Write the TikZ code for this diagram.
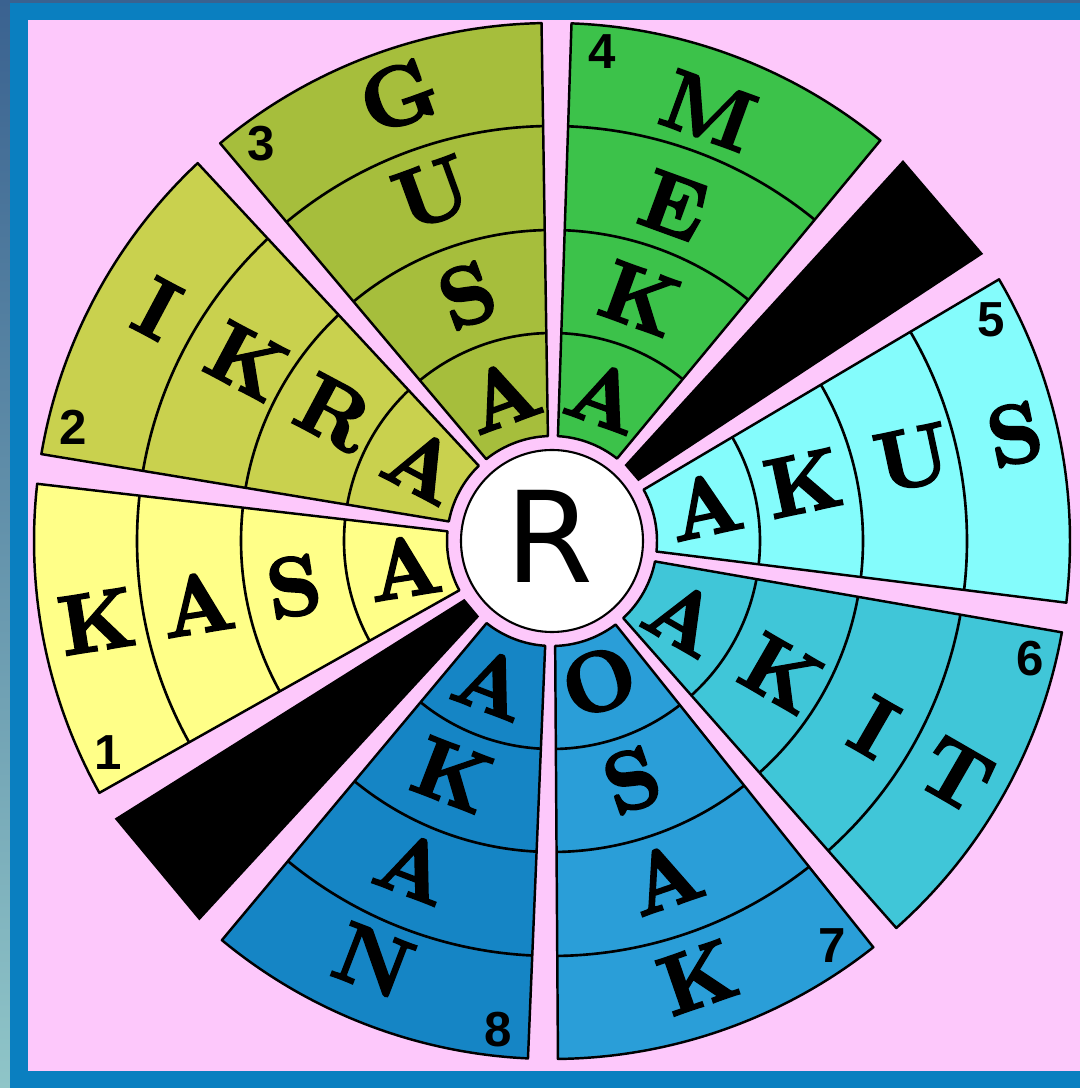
\documentclass[tikz,border=0pt]{standalone}
\usepackage{fontspec}
\newfontfamily\digitfont{Liberation Sans}
\newfontfamily\hubfont{DejaVu Sans}
\newfontfamily\cellfont{lmroman10-bold.otf}[FakeBold=2.5]
\definecolor{bgpink}{HTML}{FDC8FB}
\definecolor{frameblue}{HTML}{0A7FC0}
\definecolor{frameslate}{HTML}{3A6290}
\definecolor{framesea}{HTML}{8FC5C8}
\definecolor{secA}{HTML}{FFFF88}
\definecolor{secB}{HTML}{C9D14E}
\definecolor{secC}{HTML}{A6BE3C}
\definecolor{secD}{HTML}{3CC24A}
\definecolor{secE}{HTML}{84FCFC}
\definecolor{secF}{HTML}{40C6D8}
\definecolor{secG}{HTML}{2A9ED8}
\definecolor{secH}{HTML}{1585C5}

\begin{document}
\begin{tikzpicture}[
  x=0.1mm, y=0.1mm,
  rim/.style={draw=black, line width=0.7pt, line join=round},
  ring/.style={draw=black, line width=0.75pt},
  cell/.style={font=\cellfont\fontsize{24}{24}\selectfont, inner sep=0pt},
  tag/.style={font=\digitfont\bfseries\fontsize{14}{14}\selectfont, inner sep=0pt}
]
\useasboundingbox (-552,-547) rectangle (528,541);
% frame
\shade[top color=frameslate, bottom color=framesea] (-552,-547) rectangle (-542,541);
\fill[frameslate] (-552,538) rectangle (528,541);
\fill[frameblue] (-542,-547) rectangle (528,538);
\fill[bgpink] (-524,-530) rectangle (528,521);

\pgfmathsetmacro\dIn{asin(2.46/105+0.0242)}
\pgfmathsetmacro\dOut{asin(2.46/518+0.0242)}

% lettered sectors
\foreach \s/\e/\col/\num/\ang/\rot/\wA/\wB/\wC/\wD/\ra/\rb/\rc/\rd in {
  172/210.75/secA/1/190/9/A/S/A/K/150/262/360/462,
  131.5/172/secB/2/149.5/-28/A/R/K/I/150/252/354/458,
  89.5/131.5/secC/3/109/20/A/S/U/G/154/260/368/471,
  49/89.5/secD/4/70/-20/A/K/E/M/154/258/357/458,
  -8.5/32/secE/5/13/12/A/K/U/S/157/258/370/475,
  -50/-8.5/secF/6/-30/-30/A/K/I/T/152/265/372/467,
  -91/-50/secG/7/-71.5/19/O/S/A/K/148/252/355/460,
  -131.25/-91/secH/8/-113/-21/A/K/A/N/154/254/354/456}{
  \filldraw[rim, fill=\col] (\s+\dIn:105) -- (\s+\dOut:518)
    arc[start angle=\s+\dOut, end angle=\e-\dOut, radius=518]
    -- (\e-\dIn:105) arc[start angle=\e-\dIn, end angle=\s+\dIn, radius=105] -- cycle;
  \foreach \r in {208,311,415}{
    \pgfmathsetmacro\dr{asin(2.46/\r+0.0242)}
    \draw[ring] (\s+\dr:\r) arc[start angle=\s+\dr, end angle=\e-\dr, radius=\r];
  }
  \node[cell, rotate=\rot] (w\num a) at (\ang:\ra) {\wA};
  \node[cell, rotate=\rot] (w\num b) at (\ang:\rb) {\wB};
  \node[cell, rotate=\rot] (w\num c) at (\ang:\rc) {\wC};
  \node[cell, rotate=\rot] (w\num d) at (\ang:\rd) {\wD};
  \node[tag] (n\num) at (\e-5.3:492) {\num};
}

% black wedges
\foreach \s/\e in {32/49, 210.75/228.75}{
  \fill[black] (\s+\dIn:105) -- (\s+\dOut:518) -- (\e-\dOut:518) -- (\e-\dIn:105) -- cycle;
}

% hub
\filldraw[fill=white, draw=black, line width=0.6pt] (0,0) circle[radius=91];
\node[font=\hubfont\fontsize{36}{36}\selectfont, inner sep=0pt] (hub) at (-3,5) {R};
\end{tikzpicture}
\end{document}
